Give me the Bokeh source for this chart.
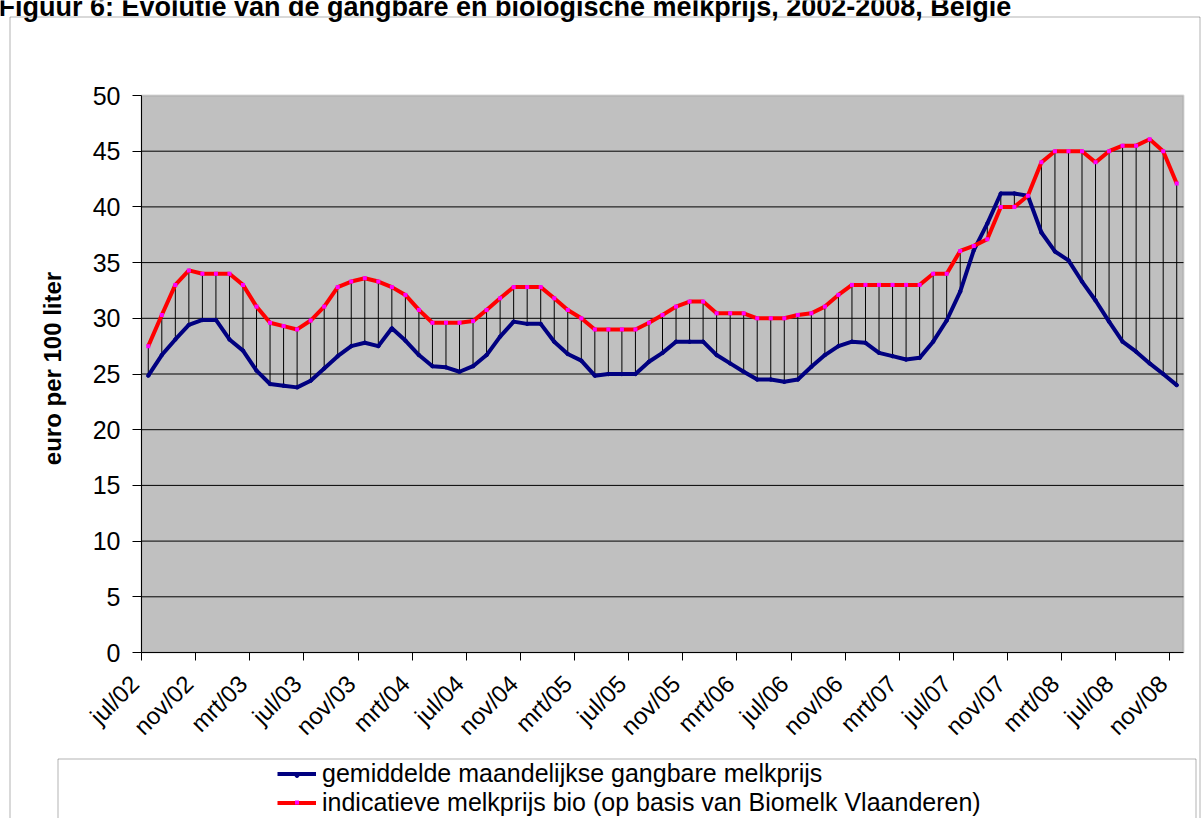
import math
from bokeh.plotting import figure
from bokeh.models import (ColumnDataSource, FixedTicker, LinearAxis, Range1d, Legend,
                          LegendItem, Label, BoxAnnotation)
from bokeh.embed import file_html
from bokeh.resources import INLINE

months = [
    "jul/02", "aug/02", "sep/02", "okt/02", "nov/02", "dec/02",
    "jan/03", "feb/03", "mrt/03", "apr/03", "mei/03", "jun/03", "jul/03", "aug/03", "sep/03", "okt/03", "nov/03", "dec/03",
    "jan/04", "feb/04", "mrt/04", "apr/04", "mei/04", "jun/04", "jul/04", "aug/04", "sep/04", "okt/04", "nov/04", "dec/04",
    "jan/05", "feb/05", "mrt/05", "apr/05", "mei/05", "jun/05", "jul/05", "aug/05", "sep/05", "okt/05", "nov/05", "dec/05",
    "jan/06", "feb/06", "mrt/06", "apr/06", "mei/06", "jun/06", "jul/06", "aug/06", "sep/06", "okt/06", "nov/06", "dec/06",
    "jan/07", "feb/07", "mrt/07", "apr/07", "mei/07", "jun/07", "jul/07", "aug/07", "sep/07", "okt/07", "nov/07", "dec/07",
    "jan/08", "feb/08", "mrt/08", "apr/08", "mei/08", "jun/08", "jul/08", "aug/08", "sep/08", "okt/08", "nov/08",
]

tick_labels = ["jul/02", "nov/02", "mrt/03", "jul/03", "nov/03", "mrt/04", "jul/04", "nov/04",
               "mrt/05", "jul/05", "nov/05", "mrt/06", "jul/06", "nov/06", "mrt/07", "jul/07",
               "nov/07", "mrt/08", "jul/08", "nov/08"]

gangbaar = [
    24.85, 26.7, 28.1, 29.4, 29.85, 29.85, 28.1, 27.1, 25.3, 24.1, 23.95, 23.8,
    24.4, 25.5, 26.6, 27.5, 27.8, 27.5, 29.1, 28.0, 26.7, 25.7, 25.6, 25.2,
    25.7, 26.7, 28.35, 29.7, 29.5, 29.5, 27.9, 26.8, 26.2, 24.85, 25.0, 25.0,
    25.0, 26.1, 26.9, 27.9, 27.9, 27.9, 26.7, 25.95, 25.2, 24.5, 24.5, 24.3,
    24.5, 25.65, 26.7, 27.5, 27.9, 27.8, 26.9, 26.6, 26.3, 26.45, 27.9, 29.8,
    32.4, 36.1, 38.5, 41.2, 41.2, 41.0, 37.7, 36.0, 35.2, 33.3, 31.6, 29.7,
    27.9, 27.0, 25.95, 25.0, 24.0,
]

bio = [
    27.5, 30.3, 33.0, 34.3, 34.0, 34.0, 34.0, 33.0, 31.05, 29.6, 29.3, 29.0,
    29.8, 31.05, 32.8, 33.3, 33.6, 33.3, 32.8, 32.1, 30.75, 29.6, 29.6, 29.6,
    29.75, 30.75, 31.8, 32.8, 32.8, 32.8, 31.8, 30.75, 30.0, 29.0, 29.0, 29.0,
    29.0, 29.6, 30.3, 31.05, 31.5, 31.5, 30.45, 30.45, 30.45, 30.0, 30.0, 30.0,
    30.3, 30.45, 31.05, 32.1, 33.0, 33.0, 33.0, 33.0, 33.0, 33.0, 34.0, 34.0,
    36.05, 36.5, 37.1, 40.0, 40.0, 41.0, 44.0, 45.0, 45.0, 45.0, 44.0, 45.0,
    45.5, 45.5, 46.07, 45.0, 42.1,
]

y_ticks = [0, 5, 10, 15, 20, 25, 30, 35, 40, 45, 50]

title_text = "Figuur 6: Evolutie van de gangbare en biologische melkprijs, 2002-2008, België"
y_title = "euro per 100 liter"
label_gangbaar = "gemiddelde maandelijkse gangbare melkprijs"
label_bio = "indicatieve melkprijs bio (op basis van Biomelk Vlaanderen)"

FONT = "Liberation Sans"

# ---- layout (pixels) ----
W, H = 1203, 818
PL, PR, PT, PB = 141, 1183, 95, 652   # plot-area edges on the canvas

n = len(months)
x_lo, x_hi = -0.5, n - 0.5
y_lo, y_hi = y_ticks[0], y_ticks[-1]
xs = (PR - PL) / (x_hi - x_lo)
ys = (PB - PT) / (y_hi - y_lo)
x_range = Range1d(x_lo - PL / xs, x_hi + (W - PR) / xs)
y_range = Range1d(y_lo - (H - PB) / ys, y_hi + PT / ys)

x = list(range(n))
src = ColumnDataSource(dict(x=x, month=months, gangbaar=gangbaar, bio=bio))

p = figure(width=W, height=H, output_backend="svg", toolbar_location=None,
           x_range=x_range, y_range=y_range,
           x_axis_location=None, y_axis_location=None,
           min_border=0, min_border_left=0, min_border_right=0,
           min_border_top=0, min_border_bottom=0)
p.background_fill_color = "white"
p.border_fill_color = "white"
p.outline_line_color = None
p.grid.visible = False

# plot area
p.add_layout(BoxAnnotation(left=x_lo, right=x_hi, bottom=y_lo, top=y_hi,
                           fill_color="#C0C0C0", fill_alpha=1,
                           line_color="#808080", line_width=2, level="underlay"))

# horizontal gridlines
inner = y_ticks[1:-1]
p.segment(x0=[x_lo] * len(inner), x1=[x_hi] * len(inner), y0=inner, y1=inner,
          line_color="black", line_width=1)

# y axis
ya = LinearAxis(ticker=FixedTicker(ticks=y_ticks), fixed_location=x_lo, bounds=(y_lo, y_hi),
                major_tick_out=9, major_tick_in=0, minor_tick_out=0, minor_tick_in=0,
                axis_line_color="black", major_tick_line_color="black",
                major_label_standoff=12, major_label_text_font=FONT,
                major_label_text_font_size="25px", major_label_text_color="black")
p.add_layout(ya, "left")

# x axis: tick marks between categories
n_lab = len(tick_labels)
bound_ticks = [4 * k - 0.5 for k in range(n_lab)]
xa_ticks = LinearAxis(ticker=FixedTicker(ticks=bound_ticks), fixed_location=y_lo,
                      bounds=(x_lo, x_hi),
                      major_label_overrides={t: "" for t in bound_ticks},
                      major_tick_out=8, major_tick_in=0, minor_tick_out=0, minor_tick_in=0,
                      major_label_standoff=0,
                      axis_line_color="black", major_tick_line_color="black")
p.add_layout(xa_ticks, "below")

# x axis: rotated labels, ending just left of each tick mark
lab_pos = [4 * k - 1 for k in range(n_lab)]
xa_labels = LinearAxis(ticker=FixedTicker(ticks=lab_pos), fixed_location=y_lo,
                       major_label_overrides={pos: lab for pos, lab in zip(lab_pos, tick_labels)},
                       major_label_orientation=math.pi / 4,
                       major_tick_out=0, major_tick_in=0, minor_tick_out=0, minor_tick_in=0,
                       axis_line_color=None, major_tick_line_color=None,
                       major_label_standoff=27,
                       major_label_text_font=FONT, major_label_text_font_size="24px",
                       major_label_text_color="black")
p.add_layout(xa_labels, "below")

# high-low lines
p.segment(x0="x", y0="gangbaar", x1="x", y1="bio", source=src, line_color="black", line_width=1)

bl = p.line("x", "gangbaar", source=src, line_color="#000080", line_width=4)
bs = p.scatter("x", "gangbaar", source=src, marker="circle", size=3.5,
               fill_color="#000080", line_color="#000080")
rl = p.line("x", "bio", source=src, line_color="#FF0000", line_width=4)
rs = p.scatter("x", "bio", source=src, marker="square", size=4,
               fill_color="#FF00FF", line_color=None)

# y axis title
p.add_layout(Label(x=52, y=H - 368, x_units="screen", y_units="screen", text=y_title,
                   angle=math.pi / 2, text_align="center", text_baseline="middle",
                   text_font=FONT, text_font_size="24px", text_font_style="bold",
                   text_color="black"))

# title (cut at the top of the image, as in the source)
p.add_layout(Label(x=-2, y=H - 6, x_units="screen", y_units="screen", text=title_text,
                   text_align="left", text_baseline="alphabetic",
                   text_font=FONT, text_font_size="27px", text_font_style="bold",
                   text_color="black"))

# outer chart border and legend box
p.add_layout(BoxAnnotation(left=9.5, right=1199.5, top=H - 16.5, bottom=-20,
                           left_units="screen", right_units="screen",
                           top_units="screen", bottom_units="screen",
                           fill_alpha=0, line_color="black", line_width=1))
p.add_layout(BoxAnnotation(left=57.5, right=1195.5, top=H - 758.5, bottom=-20,
                           left_units="screen", right_units="screen",
                           top_units="screen", bottom_units="screen",
                           fill_alpha=0, line_color="black", line_width=1))

# legend: line samples with labels
legend = Legend(items=[LegendItem(label=label_gangbaar, renderers=[bl]),
                       LegendItem(label=label_bio, renderers=[rl])],
                location=(277, 1.5), orientation="vertical",
                border_line_color=None, background_fill_alpha=0,
                padding=0, margin=0, spacing=-2,
                glyph_width=39, glyph_height=27, label_height=27, label_standoff=6,
                label_text_font=FONT, label_text_font_size="25px", label_text_color="black")
p.add_layout(legend)

# legend: the small markers centred on the line samples
legend_m = Legend(items=[LegendItem(label="", renderers=[bs]),
                         LegendItem(label="", renderers=[rs])],
                  location=(277, 11), orientation="vertical",
                  border_line_color=None, background_fill_alpha=0,
                  padding=0, margin=0, spacing=17,
                  glyph_width=39, glyph_height=10, label_height=10, label_width=0,
                  label_standoff=0, label_text_font=FONT, label_text_font_size="8px")
p.add_layout(legend_m)

open("out.html", "w").write(file_html(p, INLINE))
